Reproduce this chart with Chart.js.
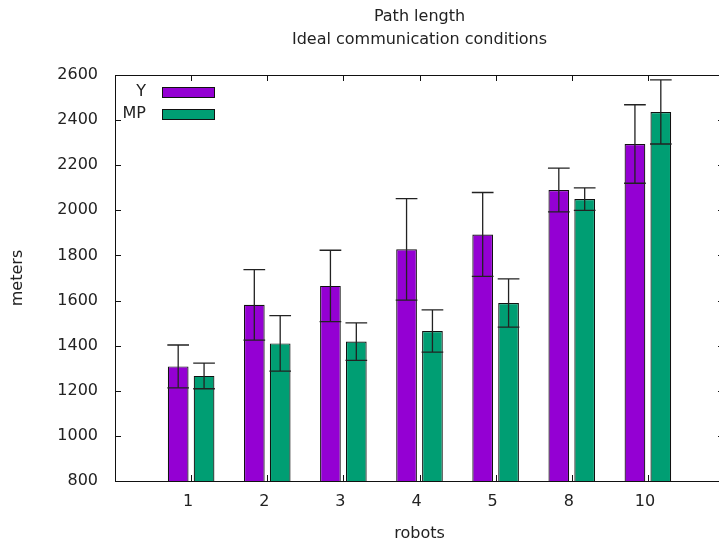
<!DOCTYPE html>
<html>
<head>
<meta charset="utf-8">
<script src="https://cdn.jsdelivr.net/npm/chart.js@4"></script>
<style>
  html, body { margin: 0; padding: 0; background: #fff; overflow: hidden; width: 719px; height: 547px; }
  canvas { display: block; }
</style>
</head>
<body>
<canvas id="myChart" width="730" height="547"></canvas>
<script>
// values
var robots = ['1', '2', '3', '4', '5', '8', '10'];
var yMean = [1308, 1581, 1665, 1827, 1893, 2090, 2294];
var yErr = [95, 156, 158, 225, 186, 97, 174];
var mpMean = [1266, 1410, 1418, 1465, 1589, 2050, 2436];
var mpErr = [57, 123, 83, 94, 107, 50, 142];
var yTicks = [800, 1000, 1200, 1400, 1600, 1800, 2000, 2200, 2400, 2600];

var FONT = 'DejaVu Sans';
var TXT = '#222';

function points(arr){
  var out = [];
  for (var i = 0; i < arr.length; i++){
    out.push({x: i, y: arr[i]});
  }
  return out;
}

// error bars, drawn through the scales
var errorBars = {
  id: 'errorBars',
  afterDatasetsDraw: function(chart){
    var ctx = chart.ctx;
    var yScale = chart.scales.y;
    var errs = [yErr, mpErr];
    var means = [yMean, mpMean];
    ctx.save();
    ctx.strokeStyle = '#222';
    ctx.lineWidth = 1.3;
    for (var d = 0; d < chart.data.datasets.length; d++){
      var meta = chart.getDatasetMeta(d);
      for (var i = 0; i < meta.data.length; i++){
        var el = meta.data[i];
        var hi = yScale.getPixelForValue(means[d][i] + errs[d][i]);
        var lo = yScale.getPixelForValue(means[d][i] - errs[d][i]);
        var half = el.width / 2 + 0.5;
        ctx.beginPath();
        ctx.moveTo(el.x, hi); ctx.lineTo(el.x, lo);
        ctx.moveTo(el.x - half, hi); ctx.lineTo(el.x + half, hi);
        ctx.moveTo(el.x - half, lo); ctx.lineTo(el.x + half, lo);
        ctx.stroke();
      }
    }
    ctx.restore();
  }
};

// gnuplot style frame, inward ticks, title and key
var frame = {
  id: 'frame',
  afterDraw: function(chart){
    var ctx = chart.ctx;
    var a = chart.chartArea;
    var xs = chart.scales.x, ys = chart.scales.y;
    ctx.save();
    ctx.strokeStyle = '#111';
    ctx.lineWidth = 1;
    ctx.strokeRect(Math.round(a.left) + 0.5, Math.round(a.top) + 0.5,
                   Math.round(a.right - a.left), Math.round(a.bottom - a.top));
    ctx.beginPath();
    for (var i = 0; i < yTicks.length; i++){
      var py = Math.round(ys.getPixelForValue(yTicks[i])) + 0.5;
      ctx.moveTo(a.left, py); ctx.lineTo(a.left + 6, py);
      ctx.moveTo(a.right, py); ctx.lineTo(a.right - 6, py);
    }
    for (var j = 0; j < robots.length; j++){
      var px = Math.round(xs.getPixelForValue(j)) + 0.5;
      ctx.moveTo(px, a.bottom); ctx.lineTo(px, a.bottom - 6);
      ctx.moveTo(px, a.top); ctx.lineTo(px, a.top + 6);
    }
    ctx.stroke();

    // title
    var cx = (a.left + a.right) / 2;
    ctx.fillStyle = TXT;
    ctx.font = '16px "' + FONT + '"';
    ctx.textAlign = 'center';
    ctx.textBaseline = 'middle';
    ctx.fillText('Path length', cx, 17);
    ctx.fillText('Ideal communication conditions', cx, 40);

    // key
    var key = [['Y', '#9400d3', 92], ['MP', '#009e73', 114]];
    ctx.textAlign = 'right';
    for (var k = 0; k < key.length; k++){
      ctx.fillStyle = TXT;
      ctx.fillText(key[k][0], 146, key[k][2]);
      ctx.fillStyle = key[k][1];
      ctx.fillRect(162.5, key[k][2] - 4.5, 52, 10);
      ctx.strokeStyle = '#111';
      ctx.strokeRect(162.5, key[k][2] - 4.5, 52, 10);
    }
    ctx.restore();
  }
};

var ctx = document.getElementById('myChart');
var myBarChart = new Chart(ctx, {
  type: 'bar',
  data: {
    datasets: [{
      label: 'Y',
      data: points(yMean),
      backgroundColor: '#9400d3',
      borderColor: '#111',
      borderWidth: 1.2,
      borderSkipped: 'start'
    }, {
      label: 'MP',
      data: points(mpMean),
      backgroundColor: '#009e73',
      borderColor: '#111',
      borderWidth: 1.2,
      borderSkipped: 'start'
    }]
  },
  options: {
    responsive: false,
    animation: false,
    events: [],
    categoryPercentage: 0.68,
    barPercentage: 0.8,
    layout: { padding: { left: 0, right: 6, top: 75, bottom: 0 } },
    plugins: {
      legend: { display: false },
      title: { display: false },
      tooltip: { enabled: false }
    },
    scales: {
      x: {
        type: 'linear',
        min: -1,
        max: 7,
        offset: false,
        grid: { display: false, drawTicks: false },
        border: { display: false },
        afterBuildTicks: function(scale){
          scale.ticks = robots.map(function(r, i){ return {value: i}; });
        },
        afterFit: function(scale){ scale.height = 66; },
        ticks: {
          autoSkip: false,
          maxRotation: 0,
          padding: 11,
          labelOffset: -3,
          color: TXT,
          font: { family: FONT, size: 16 },
          callback: function(v){ return robots[v]; }
        },
        title: {
          display: true,
          text: 'robots',
          color: TXT,
          font: { family: FONT, size: 16 },
          padding: { top: 0, bottom: 4 }
        }
      },
      y: {
        min: 800,
        max: 2600,
        grid: { display: false, drawTicks: false },
        border: { display: false },
        afterBuildTicks: function(scale){
          scale.ticks = yTicks.map(function(v){ return {value: v}; });
        },
        afterFit: function(scale){ scale.width = 115; },
        ticks: {
          padding: 17,
          color: TXT,
          font: { family: FONT, size: 16 },
          callback: function(v){ return String(v); }
        },
        title: {
          display: true,
          text: 'meters',
          color: TXT,
          font: { family: FONT, size: 16 },
          padding: { top: 8, bottom: 0 }
        }
      }
    }
  },
  plugins: [errorBars, frame]
});
</script>
</body>
</html>
